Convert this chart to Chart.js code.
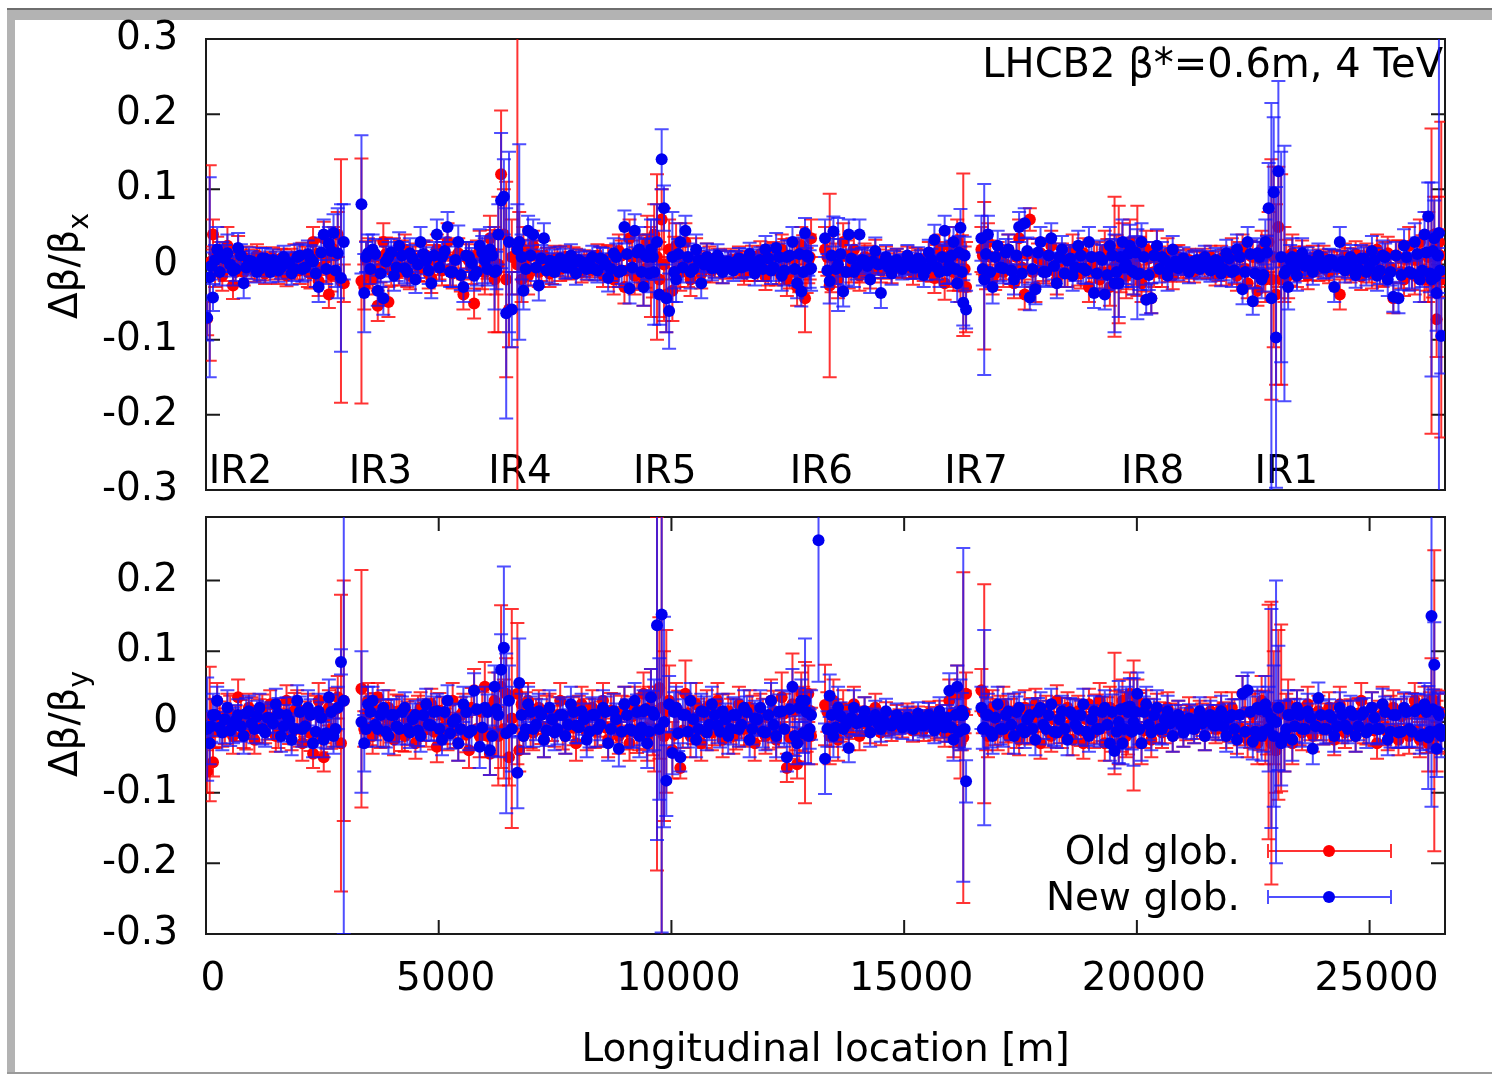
<!DOCTYPE html>
<html>
<head>
<meta charset="utf-8">
<script src="https://cdn.jsdelivr.net/npm/chart.js@4.4.1/dist/chart.umd.min.js"></script>
<style>
  html, body { margin: 0; padding: 0; background: #fff; }
  #page { position: relative; width: 1492px; height: 1075px; overflow: hidden; }
  canvas { position: absolute; left: 0; top: 0; }
  #topChart { top: -20px; }
  .frame { position: absolute; background: #b3b3b3; }
</style>
</head>
<body>
<div id="page">
  <div class="frame" style="left:7px;top:8px;width:1485px;height:2px;background:#6e6e6e"></div>
  <div class="frame" style="left:7px;top:10px;width:1485px;height:10px"></div>
  <div class="frame" style="left:7px;top:10px;width:8px;height:1064px"></div>
  <div class="frame" style="left:7px;top:1072px;width:1485px;height:2px;background:#9a9a9a"></div>
  <canvas id="topChart" width="1492" height="1075"></canvas>
  <canvas id="botChart" width="1492" height="1075"></canvas>
</div>
<script>
// ---- data ----
// BPM longitudinal positions [m], first set
const bpmS = [
  25, 80, 150, 240, 350, 460, 580, 690, 810, 920,
  1040, 1150, 1270, 1380, 1500, 1610, 1730, 1840, 1960, 2070,
  2190, 2300, 2420, 2530, 2640, 2740, 2830, 2900, 2960,
  3340, 3400, 3480, 3580, 3690, 3810, 3920, 4040, 4150, 4270,
  4380, 4500, 4610, 4730, 4840, 4960, 5070, 5190, 5300, 5420,
  5530, 5650, 5760, 5880, 5990, 6100, 6200, 6280, 6340, 6400,
  6450, 6510, 6570, 6690, 6730, 6780, 6820, 6920, 7030, 7150,
  7260, 7380, 7490, 7610, 7720, 7840, 7950, 8070, 8180, 8300,
  8410, 8530, 8640, 8760, 8870, 8990, 9100, 9210, 9310, 9400,
  9480, 9560, 9630, 9690, 9740, 9790, 9840, 9890, 9950, 10020,
  10100, 10190, 10300, 10410, 10530, 10640, 10760, 10870, 10990, 11100,
  11220, 11330, 11450, 11560, 11680, 11790, 11910, 12020, 12140, 12250,
  12370, 12480, 12600, 12700, 12790, 12870, 12940, 13000,
  13160, 13300, 13400, 13480, 13580, 13690, 13810, 13920, 14040, 14150,
  14270, 14380, 14500, 14610, 14730, 14840, 14960, 15070, 15190, 15300,
  15420, 15530, 15650, 15760, 15870, 15970, 16060, 16140, 16210, 16270,
  16330,
  16660, 16720, 16800, 16900, 17010, 17130, 17240, 17360, 17470, 17590,
  17700, 17820, 17930, 18050, 18160, 18280, 18390, 18510, 18620, 18740,
  18850, 18970, 19080, 19200, 19310, 19420, 19520, 19610, 19690, 19770,
  19850, 19930, 20010, 20100, 20200, 20310, 20430, 20540, 20660, 20770,
  20890, 21000, 21120, 21230, 21350, 21460, 21580, 21690, 21810, 21920,
  22040, 22150, 22270, 22380, 22490, 22590, 22680, 22760, 22830, 22890,
  22940, 22990, 23040, 23100, 23170, 23250, 23340, 23440, 23550, 23670,
  23780, 23900, 24010, 24130, 24240, 24360, 24470, 24590, 24700, 24820,
  24930, 25050, 25160, 25280, 25390, 25510, 25620, 25740, 25850, 25970,
  26080, 26180, 26260, 26330, 26390, 26440, 26490, 26540
];

const oldBx = [
  -.072, .002, .040, .012, -.015, .025, -.028, .018, -.010, .005,
  -.008, .010, -.012, .004, -.006, .008, -.015, .006, -.004, .012,
  -.010, .030, -.022, .035, -.040, .020, .040, -.022, -.025,
  -.022, -.030, .010, -.020, -.055, .030, -.050, .015, -.010, .020,
  -.015, .008, -.005, .012, -.018, .020, -.008, .030, -.012, .015,
  -.040, .005, -.052, .020, -.010, .035, -.020, .000, .120, .040,
  -.020, -.060, .010, .000, .030, -.020, .020, -.015, .025, -.010,
  .012, -.012, .008, -.006, .010, -.004, .006, -.010, .004, -.002,
  .012, -.014, .008, -.020, .018, -.030, .035, -.015, .010, -.025,
  .030, -.010, .040, .010, -.020, .060, .000, -.040, .020, -.035,
  .025, -.010, .030, -.020, .015, -.012, .010, -.008, .006, -.010,
  .004, -.004, .010, -.012, .002, -.006, .014, -.016, .010, -.008,
  .020, -.020, .010, -.030, .025, -.045, .005, .035,
  null, .020, -.028, .010, -.020, .030, -.010, .020, -.015, .010,
  -.012, .015, -.008, .008, -.010, .006, -.004, .010, -.012, .004,
  -.006, .012, -.018, .020, -.025, .025, -.010, .030, -.020, .013,
  -.030,
  .020, -.015, .030, -.020, .010, -.010, .020, -.025, .035, -.040,
  .060, -.030, .015, -.005, .025, -.020, .010, -.012, .020, -.008,
  .015, -.030, .005, -.020, .020, -.030, -.003, .000, .025, -.015,
  .030, -.010, .018, -.025, .020, -.045, .020, -.010, .015, -.015,
  .010, -.008, .006, -.010, .004, -.004, .010, -.012, .008, -.010,
  .015, -.015, .020, -.025, .010, -.035, .020, -.020, .030, -.020,
  .010, -.040, .050, -.020, .000, -.015, .015, -.010, .012, -.015,
  .008, -.006, .010, -.010, .004, -.040, .012, -.008, .014, -.016,
  .010, -.012, .020, -.010, .015, -.045, .010, -.020, .025, -.015,
  .030, -.020, .010, -.022, .040, -.073, .030, -.020
];
const oldBxErr = [
  .022, .13, .02, .025, .02, .025, .018, .02, .018, .015,
  .015, .013, .014, .013, .014, .013, .014, .015, .016, .017,
  .02, .02, .02, .022, .018, .03, .03, .162, .025,
  .163, .03, .025, .02, .02, .025, .02, .02, .018, .02,
  .018, .02, .018, .02, .02, .02, .02, .025, .02, .02,
  .02, .022, .02, .025, .03, .03, .07, .09, .085, .06,
  .13, .05, .05, .40, .04, .03, .03, .025, .02, .02,
  .02, .018, .017, .016, .015, .015, .015, .014, .014, .015,
  .015, .016, .018, .02, .022, .022, .025, .025, .03, .03,
  .035, .06, .04, .11, .05, .04, .075, .05, .04, .04,
  .03, .025, .025, .022, .02, .02, .018, .016, .015, .015,
  .014, .014, .014, .015, .015, .016, .017, .018, .018, .02,
  .02, .022, .025, .025, .025, .045, .03, .025,
  null, .03, .122, .03, .025, .025, .022, .02, .02, .018,
  .02, .018, .016, .016, .015, .015, .014, .014, .015, .015,
  .016, .018, .02, .02, .022, .025, .025, .03, .03, .108,
  .06,
  .03, .098, .025, .02, .02, .02, .02, .02, .025, .02,
  .015, .02, .02, .02, .02, .02, .018, .018, .02, .02,
  .02, .02, .022, .022, .025, .025, .093, .078, .03, .03,
  .03, .03, .06, .025, .025, .02, .025, .02, .02, .018,
  .016, .015, .015, .014, .014, .014, .015, .016, .017, .018,
  .02, .02, .02, .02, .02, .02, .025, .03, .04, .16,
  .12, .12, .08, .14, .05, .03, .025, .02, .02, .018,
  .017, .016, .015, .015, .015, .02, .016, .016, .017, .018,
  .018, .02, .02, .02, .022, .02, .022, .022, .025, .025,
  .03, .03, .06, .203, .05, .05, .06, .21
];
const newBx = [
  -.071, -.017, -.044, .020, .010, .015, -.008, .022, -.025, .005,
  .000, -.006, .008, -.010, .004, -.004, .002, -.012, .010, -.006,
  .014, .004, -.030, .040, .028, .042, .015, -.018, .030,
  .080, -.038, .015, .020, -.035, -.045, .010, -.015, .025, -.005,
  .015, -.020, .030, .005, -.025, .040, .010, .050, -.010, .030,
  -.030, .010, -.015, .025, .005, .020, -.010, .040, .085, .090,
  -.065, .030, -.060, .020, .030, .010, -.035, .045, .040, -.028,
  .035, .005, -.010, .008, -.004, .012, -.012, .003, -.006, .010,
  -.008, .006, -.018, .015, -.010, .050, -.032, .045, .020, -.030,
  .010, .020, -.010, .030, -.040, .140, .075, -.045, -.062, .010,
  -.020, .030, .045, -.010, .020, -.025, .010, -.005, .012, -.010,
  .004, -.008, .008, -.002, .014, -.012, .006, .020, -.008, .022,
  -.015, .010, .030, -.025, -.036, .042, .010, -.005,
  null, .035, -.022, .044, .000, -.036, .040, -.010, .040, .005,
  -.020, .018, -.038, .010, -.012, .006, -.006, .012, -.004, .008,
  -.014, .016, .033, -.010, .045, .000, .030, -.025, .049, -.051,
  -.060,
  .035, -.020, .040, -.030, .025, -.005, .020, -.020, .050, .055,
  -.044, -.033, .030, -.010, .035, -.025, .020, .005, -.015, .025,
  -.005, .030, -.038, .010, -.040, .025, -.025, -.025, .030, .000,
  .025, -.010, -.013, .030, -.047, -.045, .025, .010, -.015, .020,
  -.005, .008, -.010, .004, -.006, .010, -.008, .006, -.012, .015,
  -.010, .020, -.033, .030, -.049, .015, -.020, .030, .075, -.045,
  .096, -.097, .124, .010, -.012, -.030, .010, -.015, .015, .005,
  -.010, .012, -.004, .006, -.030, .030, -.008, .010, -.014, .008,
  -.010, .018, -.015, .012, -.020, -.043, -.045, .025, -.010, .030,
  -.020, .040, .064, -.020, .035, -.038, .042, -.095
];
const newBxErr = [
  .03, .133, .018, .03, .02, .025, .02, .02, .02, .018,
  .015, .015, .014, .014, .013, .015, .014, .015, .016, .017,
  .018, .02, .02, .02, .022, .025, .06, .098, .05,
  .092, .052, .025, .02, .02, .022, .02, .02, .018, .02,
  .02, .018, .02, .018, .02, .02, .02, .02, .02, .022,
  .02, .02, .02, .022, .03, .03, .05, .04, .09, .05,
  .14, .12, .05, .06, .13, .03, .025, .02, .02, .02,
  .02, .018, .017, .016, .015, .015, .015, .014, .014, .015,
  .016, .016, .018, .02, .02, .022, .02, .022, .03, .025,
  .03, .04, .07, .05, .04, .04, .03, .045, .05, .06,
  .03, .025, .02, .022, .02, .02, .018, .016, .015, .015,
  .014, .014, .014, .015, .015, .016, .017, .018, .018, .02,
  .02, .022, .02, .02, .02, .02, .025, .03,
  null, .025, .03, .02, .062, .02, .02, .02, .02, .018,
  .018, .018, .02, .016, .015, .015, .014, .014, .015, .015,
  .016, .017, .02, .02, .02, .025, .02, .025, .025, .03,
  .025,
  .03, .127, .025, .022, .02, .02, .02, .02, .02, .02,
  .017, .02, .02, .02, .02, .02, .018, .018, .02, .02,
  .02, .02, .02, .022, .02, .025, .065, .045, .03, .03,
  .028, .03, .06, .025, .02, .02, .022, .02, .02, .018,
  .016, .015, .015, .014, .014, .015, .015, .016, .017, .018,
  .02, .02, .02, .02, .018, .02, .025, .03, .06, .26,
  .1, .2, .12, .14, .17, .03, .025, .02, .02, .018,
  .017, .016, .015, .015, .02, .02, .016, .016, .017, .018,
  .018, .02, .02, .02, .022, .02, .02, .022, .025, .025,
  .03, .03, .045, .129, .05, .05, .4, .05
];
const oldBy = [
  -.070, -.017, -.057, .030, -.010, .010, -.020, .035, -.015, .020,
  -.025, .010, -.010, .025, -.020, .005, .030, -.015, .020, -.030,
  .015, -.045, .030, -.050, .020, -.010, .035, -.030, .030,
  .047, -.010, .030, -.020, .035, -.010, .020, -.025, .015, -.020,
  .010, -.030, .020, -.010, .025, -.035, .010, -.015, .030, -.030,
  .015, -.040, .045, -.020, .050, -.045, .030, -.020, .050, -.010,
  .040, -.050, .005, .040, -.040, .025, -.020, .030, -.015, .020,
  -.025, .015, -.010, .030, -.020, .010, -.030, .025, -.015, .020,
  -.010, .030, -.025, .015, -.020, .025, -.030, .020, -.010, .040,
  -.020, .035, -.010, .040, .048, .020, -.020, .015, .030, -.040,
  .020, -.065, .040, -.020, .025, -.030, .020, -.015, .030, -.025,
  .015, -.020, .025, -.010, .020, -.030, .015, -.020, .030, -.025,
  .035, -.065, .025, -.060, .040, -.015, .040, -.020,
  null, .024, -.020, .030, -.025, .020, -.015, .025, -.020, .015,
  -.010, .020, -.015, .010, -.010, .008, -.006, .010, -.012, .006,
  -.010, .012, -.008, .010, -.015, .030, -.020, .040, -.030, -.022,
  .040,
  .045, .040, -.020, .020, -.015, .025, -.020, .015, -.025, .020,
  -.010, .025, -.030, .015, -.020, .030, -.015, .020, -.025, .015,
  -.030, .025, -.015, .030, -.030, .020, .012, -.030, .030, -.020,
  .040, -.005, .030, -.030, .020, -.025, .015, -.015, .020, -.020,
  .010, -.015, .015, -.010, .010, -.020, .015, -.010, .020, -.015,
  .020, -.020, .040, -.025, .010, -.030, .030, -.020, .000, -.030,
  .020, -.040, .010, .020, -.020, .025, -.030, .020, -.015, .025,
  -.020, .015, -.010, .020, -.025, .025, -.015, .010, -.020, .030,
  -.010, .020, -.030, .025, -.015, .020, -.025, .015, -.020, .030,
  -.025, .020, -.030, .030, .030, -.020, .010, -.015
];
const oldByErr = [
  .03, .095, .02, .025, .025, .03, .025, .025, .022, .02,
  .02, .022, .02, .02, .022, .025, .022, .025, .025, .025,
  .025, .02, .025, .02, .025, .025, .03, .21, .17,
  .168, .025, .025, .025, .02, .025, .025, .022, .022, .022,
  .022, .022, .022, .025, .022, .022, .025, .025, .025, .025,
  .025, .025, .03, .03, .035, .03, .04, .07, .115, .07,
  .05, .04, .155, .1, .03, .03, .025, .025, .025, .025,
  .025, .025, .025, .025, .025, .025, .025, .025, .025, .025,
  .025, .025, .025, .025, .025, .025, .025, .03, .03, .03,
  .035, .04, .06, .25, .1, .4, .12, .115, .05, .04,
  .035, .015, .047, .03, .03, .025, .025, .025, .025, .025,
  .025, .025, .025, .025, .025, .025, .025, .025, .03, .03,
  .035, .02, .072, .02, .03, .1, .04, .04,
  null, .057, .04, .03, .03, .025, .025, .025, .02, .02,
  .02, .02, .018, .018, .017, .016, .016, .016, .016, .016,
  .017, .017, .018, .02, .02, .03, .03, .04, .05, .234,
  .03,
  .03, .155, .03, .025, .025, .025, .025, .025, .022, .025,
  .022, .022, .022, .022, .022, .022, .022, .022, .022, .022,
  .022, .022, .022, .025, .025, .03, .086, .03, .03, .03,
  .03, .092, .03, .03, .025, .025, .025, .022, .022, .022,
  .02, .02, .02, .02, .02, .02, .02, .02, .022, .022,
  .022, .025, .025, .025, .03, .03, .035, .04, .166, .2,
  .08, .06, .12, .118, .05, .035, .03, .025, .025, .025,
  .022, .022, .022, .022, .022, .025, .022, .022, .022, .025,
  .022, .022, .022, .025, .025, .025, .022, .025, .025, .025,
  .025, .03, .04, .06, .213, .05, .03, .03
];
const newBy = [
  -.010, -.030, .010, .030, -.015, .020, -.005, .010, -.020, .015,
  -.010, .020, -.015, .005, .025, -.020, .010, -.025, .030, -.010,
  .020, -.030, .015, -.025, .035, -.020, .020, .085, .030,
  .000, -.030, .025, .030, -.010, .020, -.020, .010, -.010, .020,
  -.015, .010, -.020, .025, -.005, .015, -.025, .030, .000, -.030,
  .025, -.015, .044, -.035, .020, -.040, .050, .010, .074, .105,
  -.016, .030, -.010, -.072, .055, .010, -.020, .025, -.010, .015,
  -.025, .020, -.015, .010, -.020, .025, -.005, .015, -.025, .010,
  -.010, .020, -.030, .015, -.038, .025, -.010, .030, -.020, .015,
  -.030, .035, .010, .137, -.010, .152, .000, -.083, .025, -.044,
  .020, -.050, .010, .030, -.025, .015, -.015, .025, -.005, .015,
  -.020, .010, -.010, .020, -.025, .005, .020, -.015, .030, -.020,
  .015, -.050, .050, -.030, .030, .030, -.020, .010,
  .257, -.052, .037, -.020, .020, -.010, -.037, .020, .000, .015,
  -.015, .010, -.010, .015, -.005, .010, -.008, .006, -.010, .012,
  -.005, .010, -.012, .015, -.008, .044, -.025, .050, .010, .010,
  -.084,
  .020, -.008, .010, -.020, .025, -.010, .015, -.020, .020, -.015,
  .010, -.025, .020, -.010, .025, -.015, .015, -.025, .010, -.010,
  .025, -.020, .015, -.010, .020, -.030, -.041, .000, -.030, .020,
  .022, .000, .040, -.030, .025, -.015, .020, -.010, .015, -.020,
  .010, -.015, .005, -.010, .015, -.020, .010, -.005, .015, -.020,
  .010, -.025, .040, .045, -.028, .020, -.020, .025, -.010, .005,
  -.020, .000, .020, -.030, -.020, .010, -.025, .020, -.010, .015,
  -.038, .034, -.010, .010, -.020, .020, -.005, .015, -.020, .010,
  -.015, .020, -.010, .025, -.025, .010, -.015, .020, -.010, .015,
  -.020, .025, -.022, .150, .081, -.038, .010, -.020
];
const newByErr = [
  .073, .03, .03, .02, .025, .025, .025, .022, .025, .022,
  .02, .02, .02, .02, .022, .022, .025, .022, .022, .025,
  .025, .02, .025, .025, .025, .025, .03, .018, .33,
  .1, .04, .025, .02, .025, .025, .025, .022, .022, .022,
  .022, .02, .022, .022, .022, .025, .022, .022, .025, .025,
  .025, .025, .025, .03, .03, .035, .03, .06, .05, .115,
  .113, .05, .06, .05, .063, .03, .025, .025, .025, .025,
  .025, .025, .025, .025, .025, .025, .025, .025, .025, .025,
  .025, .025, .025, .025, .025, .025, .025, .025, .03, .03,
  .035, .04, .05, .304, .1, .45, .149, .05, .04, .03,
  .03, .02, .03, .025, .025, .025, .025, .025, .025, .025,
  .025, .025, .025, .025, .025, .025, .025, .025, .025, .03,
  .03, .02, .025, .03, .03, .088, .04, .035,
  .2, .05, .03, .03, .03, .025, .02, .025, .02, .02,
  .02, .02, .018, .018, .017, .016, .016, .016, .016, .016,
  .017, .017, .018, .02, .02, .025, .03, .03, .05, .236,
  .03,
  .03, .138, .03, .025, .025, .025, .025, .025, .022, .022,
  .022, .022, .022, .022, .022, .022, .022, .022, .022, .022,
  .022, .022, .022, .025, .025, .025, .025, .058, .03, .03,
  .04, .062, .03, .025, .025, .025, .025, .022, .022, .022,
  .02, .02, .02, .02, .02, .02, .02, .02, .022, .022,
  .022, .025, .025, .025, .025, .03, .035, .04, .06, .155,
  .1, .2, .088, .06, .05, .035, .03, .025, .025, .025,
  .022, .022, .022, .022, .022, .022, .022, .022, .022, .022,
  .022, .022, .022, .022, .022, .022, .022, .022, .025, .025,
  .025, .03, .073, .27, .06, .04, .03, .03
];

// second set of BPMs, interleaved with the first (arcs)
const bpmS2 = [
  110, 195, 295, 405, 520, 635, 750, 865, 980, 1095,
  1210, 1325, 1440, 1555, 1670, 1785, 1900, 2015, 2130, 2245,
  2360, 2475, 2585, 2690, 2785,
  3440, 3530, 3635, 3750, 3865, 3980, 4095, 4210, 4325, 4440,
  4555, 4670, 4785, 4900, 5015, 5130, 5245, 5360, 5475, 5590,
  5705, 5820, 5935, 6050, 6150, 6240,
  6870, 6975, 7090, 7205, 7320, 7435, 7550, 7665, 7780, 7895,
  8010, 8125, 8240, 8355, 8470, 8585, 8700, 8815, 8930, 9045,
  9155, 9260, 9355, 9440, 9520, 9600,
  10060, 10145, 10245, 10355, 10470, 10585, 10700, 10815, 10930, 11045,
  11160, 11275, 11390, 11505, 11620, 11735, 11850, 11965, 12080, 12195,
  12310, 12425, 12540, 12650, 12745, 12830, 12905, 12970,
  13350, 13440, 13530, 13635, 13750, 13865, 13980, 14095, 14210, 14325,
  14440, 14555, 14670, 14785, 14900, 15015, 15130, 15245, 15360, 15475,
  15590, 15705, 15815, 15920, 16015, 16100, 16175, 16240, 16300,
  16690, 16760, 16850, 16955, 17070, 17185, 17300, 17415, 17530, 17645,
  17760, 17875, 17990, 18105, 18220, 18335, 18450, 18565, 18680, 18795,
  18910, 19025, 19140, 19255, 19365, 19470, 19565, 19650, 19730, 19810,
  19890, 19970, 20055, 20150, 20255, 20370, 20485, 20600, 20715, 20830,
  20945, 21060, 21175, 21290, 21405, 21520, 21635, 21750, 21865, 21980,
  22095, 22210, 22325, 22435, 22540, 22635, 22720, 22795,
  23210, 23295, 23390, 23495, 23610, 23725, 23840, 23955, 24070, 24185,
  24300, 24415, 24530, 24645, 24760, 24875, 24990, 25105, 25220, 25335,
  25450, 25565, 25680, 25795, 25910, 26025, 26130, 26220, 26295, 26360,
  26415, 26465, 26515
];
const oldBx2 = [
  .004, -.008, .010, -.002, .006, -.010, .002, .008, -.004, .012,
  -.006, .000, .008, -.010, .004, -.002, .010, -.008, .006, -.012,
  .014, -.004, .008, -.014, .012,
  .006, -.012, .010, -.004, .014, -.008, .002, .012, -.010, .004,
  -.002, .010, -.012, .006, .000, .014, -.006, .008, -.014, .010,
  -.004, .012, -.008, .006, .016, -.010,
  .008, -.006, .012, -.002, .004, -.008, .006, .000, -.004, .008,
  -.002, .004, -.006, .002, .008, -.004, .006, -.010, .012, -.008,
  .010, -.012, .014, -.006, .010, -.014,
  .012, -.008, .006, -.010, .004, .000, -.006, .008, -.002, .004,
  -.004, .006, -.002, .002, -.006, .008, -.004, .006, -.008, .010,
  -.006, .012, -.010, .008, -.012, .014, -.008, .010,
  .010, -.012, .006, -.008, .012, -.004, .002, -.006, .008, -.002,
  .004, -.004, .000, .004, -.002, .002, -.004, .006, -.002, .004,
  -.006, .008, -.004, .010, -.008, .012, -.010, .014, -.006,
  .012, -.008, .010, -.012, .006, .000, -.006, .010, -.004, .014,
  -.010, .008, -.002, .012, -.008, .004, -.010, .006, .002, -.012,
  .010, -.004, .008, -.010, .012, -.006, .014, -.012, .004, -.008,
  .010, -.002, .012, -.014, .008, -.010, .004, .000, -.006, .008,
  -.002, .004, -.004, .002, .006, -.004, .002, -.006, .004, .000,
  -.008, .010, -.006, .012, -.010, .008, -.012, .014,
  .008, -.006, .004, -.002, .006, -.004, .000, .004, -.006, .002,
  .004, -.002, .006, -.004, .002, .008, -.006, .004, -.008, .010,
  -.004, .012, -.010, .008, -.012, .006, .014, -.010, .012, -.014,
  .010, -.008, .012
];
const oldBx2Err = [
  .02, .022, .02, .02, .018, .018, .016, .016, .015, .015,
  .015, .015, .015, .016, .016, .016, .017, .018, .018, .02,
  .02, .02, .022, .022, .025,
  .025, .02, .022, .02, .022, .02, .02, .02, .02, .02,
  .02, .02, .02, .02, .02, .02, .022, .02, .022, .02,
  .022, .02, .025, .025, .03, .03,
  .025, .022, .02, .02, .018, .018, .017, .016, .016, .015,
  .015, .015, .015, .016, .016, .017, .018, .02, .02, .022,
  .022, .022, .025, .025, .03, .03,
  .025, .022, .022, .02, .02, .018, .017, .016, .015, .015,
  .015, .015, .015, .016, .016, .017, .018, .018, .02, .02,
  .02, .022, .022, .025, .025, .025, .03, .03,
  .025, .025, .022, .022, .02, .02, .018, .018, .017, .016,
  .016, .015, .015, .015, .015, .015, .015, .016, .016, .016,
  .017, .018, .02, .02, .022, .022, .025, .025, .03,
  .025, .025, .022, .022, .02, .02, .02, .02, .02, .02,
  .02, .02, .02, .02, .02, .02, .02, .02, .02, .02,
  .02, .02, .022, .022, .022, .025, .025, .025, .025, .025,
  .025, .025, .025, .022, .022, .02, .02, .018, .017, .016,
  .016, .015, .015, .015, .015, .015, .015, .016, .016, .017,
  .018, .02, .02, .02, .022, .022, .025, .025,
  .025, .022, .02, .02, .018, .017, .016, .016, .015, .015,
  .015, .015, .016, .016, .016, .017, .018, .018, .02, .02,
  .02, .02, .022, .022, .022, .025, .025, .025, .03, .03,
  .03, .035, .035
];
const newBx2 = [
  -.002, .006, -.010, .008, .000, -.006, .012, -.004, .004, -.010,
  .008, -.002, .006, -.008, .010, .002, -.006, .012, -.004, .008,
  -.012, .016, -.006, .018, -.008,
  .010, -.006, .014, -.012, .004, .016, -.004, .012, -.010, .008,
  .000, .014, -.008, .012, -.004, .018, -.010, .006, -.014, .012,
  .002, -.010, .016, -.006, .012, -.008,
  -.006, .012, -.004, .008, -.008, .004, .000, .006, -.004, .002,
  .006, -.002, .004, -.006, .008, .000, -.006, .010, -.008, .014,
  -.004, .016, -.010, .012, -.012, .010,
  -.010, .014, -.004, .010, -.006, .006, .000, .004, -.004, .006,
  -.002, .002, .004, -.004, .006, -.002, .004, -.006, .008, -.004,
  .010, -.008, .012, -.006, .014, -.010, .012, -.006,
  -.008, .012, -.006, .014, -.010, .008, -.004, .006, -.002, .004,
  .000, .002, -.004, .004, -.002, .000, .002, -.004, .004, -.006,
  .006, -.004, .010, -.008, .012, -.006, .016, -.010, .012,
  -.006, .014, -.010, .010, -.004, .016, -.008, .012, -.012, .018,
  -.006, .016, -.010, .012, -.002, .010, -.012, .008, -.004, .012,
  -.008, .010, -.012, .006, -.014, .012, -.010, .010, -.004, .014,
  -.008, .016, -.012, .010, -.014, .012, -.006, .006, -.004, .004,
  .000, .002, -.004, .006, -.002, .004, -.006, .004, -.006, .008,
  -.008, .010, -.010, .014, -.012, .010, -.014, .016,
  -.008, .006, -.006, .004, -.002, .004, .000, .002, -.004, .006,
  -.002, .004, -.004, .006, -.006, .008, -.004, .006, -.008, .010,
  -.010, .012, -.014, .010, -.012, .014, -.008, .016, -.012, .018,
  -.016, .012, -.008
];
const newBx2Err = [
  .018, .02, .018, .018, .016, .016, .015, .015, .014, .014,
  .014, .014, .014, .015, .015, .015, .016, .016, .017, .018,
  .018, .02, .02, .02, .022,
  .02, .02, .02, .018, .02, .018, .018, .018, .018, .018,
  .018, .018, .018, .018, .018, .018, .02, .018, .02, .018,
  .02, .018, .022, .022, .025, .025,
  .022, .02, .018, .018, .016, .016, .015, .015, .014, .014,
  .014, .014, .014, .015, .015, .015, .016, .018, .018, .02,
  .02, .02, .022, .022, .025, .025,
  .022, .02, .02, .018, .018, .016, .015, .015, .014, .014,
  .014, .014, .014, .015, .015, .015, .016, .016, .018, .018,
  .018, .02, .02, .022, .022, .022, .025, .025,
  .022, .022, .02, .02, .018, .018, .016, .016, .015, .015,
  .014, .014, .014, .014, .014, .014, .014, .015, .015, .015,
  .015, .016, .018, .018, .02, .02, .022, .022, .025,
  .022, .022, .02, .02, .018, .018, .018, .018, .018, .018,
  .018, .018, .018, .018, .018, .018, .018, .018, .018, .018,
  .018, .018, .02, .02, .02, .022, .022, .022, .022, .022,
  .022, .022, .022, .02, .02, .018, .018, .016, .015, .015,
  .014, .014, .014, .014, .014, .014, .014, .015, .015, .015,
  .016, .018, .018, .018, .02, .02, .022, .022,
  .022, .02, .018, .018, .016, .015, .015, .014, .014, .014,
  .014, .014, .014, .015, .015, .015, .016, .016, .018, .018,
  .018, .018, .02, .02, .02, .022, .022, .022, .025, .025,
  .025, .03, .03
];
const oldBy2 = [
  .008, -.012, .004, -.006, .012, -.002, .006, -.014, .010, -.004,
  .014, .000, .006, -.012, .008, -.006, .016, -.010, .004, -.016,
  .012, -.018, .008, -.010, .018,
  .012, -.008, .016, -.012, .006, -.004, .014, -.016, .004, -.008,
  .012, -.002, .008, -.014, .016, -.006, .002, -.012, .010, -.018,
  .020, -.010, .014, -.020, .022, -.014,
  .014, -.012, .008, -.006, .012, -.002, .010, -.014, .004, -.008,
  .012, .000, .008, -.012, .004, -.008, .016, -.004, .012, -.014,
  .008, -.016, .012, -.008, .020, -.012,
  -.018, .016, -.012, .012, -.006, .008, -.012, .004, -.008, .014,
  -.004, .008, -.014, .002, -.008, .012, -.002, .008, -.014, .016,
  -.008, .012, -.022, .016, -.026, .020, -.012, .016,
  .014, -.010, .010, -.006, .006, -.004, .004, -.002, .004, .000,
  .002, -.004, .000, -.002, .002, .000, .004, -.002, .000, -.004,
  .004, -.006, .006, -.008, .012, -.010, .016, -.012, .014,
  .014, -.012, .008, -.008, .012, -.004, .008, -.012, .004, -.008,
  .012, -.002, .008, -.014, .004, -.008, .012, -.004, .010, -.012,
  .004, -.008, .014, -.002, .010, -.014, .016, -.012, .012, -.016,
  .014, -.008, .016, -.012, .008, -.004, .006, -.008, .006, -.002,
  .004, -.006, .004, -.004, .006, -.002, .004, -.006, .006, -.006,
  .010, -.008, .014, -.012, .016, -.012, .014, -.016,
  .012, -.008, .008, -.008, .004, -.004, .008, -.004, .004, -.008,
  .004, -.008, .008, -.004, .012, -.008, .004, -.012, .008, -.008,
  .012, -.012, .008, -.012, .016, -.012, .012, -.016, .014, -.012,
  .016, -.012, .014
];
const oldBy2Err = [
  .025, .025, .025, .025, .025, .025, .025, .025, .025, .025,
  .025, .025, .025, .025, .025, .025, .025, .025, .025, .025,
  .025, .025, .025, .028, .03,
  .028, .025, .025, .025, .025, .025, .025, .025, .025, .025,
  .025, .025, .025, .025, .025, .025, .025, .025, .025, .025,
  .028, .028, .028, .03, .03, .035,
  .028, .025, .025, .025, .025, .025, .025, .025, .025, .025,
  .025, .025, .025, .025, .025, .025, .025, .025, .025, .025,
  .028, .028, .028, .03, .03, .035,
  .03, .028, .025, .025, .025, .025, .025, .025, .025, .025,
  .025, .025, .025, .025, .025, .025, .025, .025, .025, .028,
  .028, .028, .03, .03, .03, .03, .03, .03,
  .028, .025, .022, .022, .02, .02, .018, .018, .017, .017,
  .016, .016, .016, .016, .016, .016, .016, .016, .016, .016,
  .017, .017, .018, .02, .022, .025, .025, .028, .03,
  .03, .028, .025, .025, .025, .025, .025, .025, .022, .022,
  .022, .022, .022, .022, .022, .022, .022, .022, .022, .022,
  .022, .022, .025, .025, .025, .028, .028, .03, .03, .03,
  .028, .028, .025, .025, .025, .025, .022, .022, .02, .02,
  .02, .02, .02, .02, .02, .02, .02, .02, .022, .022,
  .022, .025, .025, .025, .028, .028, .03, .03,
  .028, .025, .025, .025, .022, .022, .022, .022, .022, .022,
  .022, .022, .022, .022, .022, .022, .022, .022, .022, .025,
  .025, .025, .025, .025, .025, .025, .025, .028, .028, .03,
  .03, .03, .03
];
const newBy2 = [
  -.006, .010, -.008, .004, -.012, .002, -.006, .012, -.002, .008,
  -.010, .006, -.002, .012, -.006, .002, -.010, .014, -.006, .010,
  -.014, .006, -.016, .014, -.010,
  -.010, .014, -.004, .010, -.014, .010, -.006, .014, -.010, .004,
  -.012, .010, -.004, .014, -.010, .014, -.016, .004, -.010, .014,
  -.012, .018, -.008, .014, -.020, .018,
  -.010, .014, -.004, .010, -.012, .004, -.010, .010, -.004, .014,
  -.008, .004, -.014, .010, -.004, .014, -.010, .004, -.014, .010,
  -.012, .014, -.008, .018, -.014, .014,
  .014, -.016, .010, -.014, .004, -.010, .014, -.004, .010, -.014,
  .004, -.010, .010, -.004, .014, -.010, .004, -.014, .010, -.004,
  .014, -.010, .018, -.020, .020, -.016, .014, -.010,
  -.010, .010, -.008, .008, -.004, .006, -.002, .004, .000, .004,
  -.002, .002, -.004, .000, -.002, .002, .000, .002, -.004, .002,
  -.004, .004, -.006, .006, -.008, .010, -.014, .016, -.010,
  -.010, .010, -.014, .006, -.010, .010, -.004, .014, -.010, .004,
  -.010, .014, -.004, .010, -.014, .004, -.010, .014, -.004, .010,
  -.014, .004, -.010, .014, -.004, .014, -.014, .018, -.010, .014,
  -.014, .014, -.010, .014, -.004, .010, -.010, .004, -.002, .006,
  -.004, .002, -.006, .004, -.002, .006, -.004, .006, -.006, .006,
  -.010, .010, -.014, .014, -.014, .018, -.014, .014,
  -.010, .010, -.006, .010, -.010, .006, -.006, .010, -.010, .006,
  -.006, .010, -.010, .010, -.006, .014, -.010, .006, -.010, .014,
  -.014, .010, -.014, .014, -.014, .018, -.018, .014, -.014, .018,
  -.014, .014, -.010
];
const newBy2Err = [
  .022, .022, .022, .022, .022, .022, .022, .022, .022, .022,
  .022, .022, .022, .022, .022, .022, .022, .022, .022, .022,
  .022, .022, .022, .025, .025,
  .025, .022, .022, .022, .022, .022, .022, .022, .022, .022,
  .022, .022, .022, .022, .022, .022, .022, .022, .022, .022,
  .025, .025, .025, .025, .028, .03,
  .025, .022, .022, .022, .022, .022, .022, .022, .022, .022,
  .022, .022, .022, .022, .022, .022, .022, .022, .022, .022,
  .025, .025, .025, .025, .028, .03,
  .028, .025, .022, .022, .022, .022, .022, .022, .022, .022,
  .022, .022, .022, .022, .022, .022, .022, .022, .022, .025,
  .025, .025, .025, .028, .028, .028, .028, .028,
  .025, .022, .02, .02, .018, .018, .016, .016, .015, .015,
  .015, .015, .015, .015, .015, .015, .015, .015, .015, .015,
  .015, .015, .016, .018, .02, .022, .022, .025, .028,
  .028, .025, .022, .022, .022, .022, .022, .022, .02, .02,
  .02, .02, .02, .02, .02, .02, .02, .02, .02, .02,
  .02, .02, .022, .022, .022, .025, .025, .028, .028, .028,
  .025, .025, .022, .022, .022, .022, .02, .02, .018, .018,
  .018, .018, .018, .018, .018, .018, .018, .018, .02, .02,
  .02, .022, .022, .022, .025, .025, .028, .028,
  .025, .022, .022, .022, .02, .02, .02, .02, .02, .02,
  .02, .02, .02, .02, .02, .02, .02, .02, .02, .022,
  .022, .022, .022, .022, .022, .022, .022, .025, .025, .028,
  .028, .028, .028
];

const seriesNames = ['Old glob.', 'New glob.'];
const xTicks = [0, 5000, 10000, 15000, 20000, 25000];
const yTicks = [-0.3, -0.2, -0.1, 0, 0.1, 0.2, 0.3];
const irNames = ['IR2', 'IR3', 'IR4', 'IR5', 'IR6', 'IR7', 'IR8', 'IR1'];
const irS = [60, 3065, 6066, 9175, 12540, 15863, 19657, 22529];

// ---- styling ----
const FONT = 'DejaVu Sans';
const RED_BAR = 'rgba(255,0,0,0.8)', RED_PT = '#ff0000';
const BLUE_BAR = 'rgba(20,20,255,0.75)', BLUE_PT = '#0000f0';
const X_MAX = 26620;
const font = { family: FONT, size: 39 };

function points(pos, vals, errs) {
  return pos.map((s, i) => ({ x: s, y: vals[i], e: errs[i] })).filter(p => p.y !== null);
}

function dataset(label, data, pt, bar, order) {
  return {
    label, data: data.sort((a, b) => a.x - b.x), order,
    backgroundColor: pt, borderWidth: 0,
    pointRadius: 6, pointHoverRadius: 6,
    barColor: bar
  };
}

// error bars drawn just before each dataset's points
const errorBars = {
  id: 'errorBars',
  beforeDatasetDraw(chart, args) {
    const ds = chart.data.datasets[args.index];
    const ys = chart.scales.y, a = chart.chartArea, ctx = chart.ctx;
    ctx.save();
    ctx.beginPath();
    ctx.rect(a.left, a.top, a.right - a.left, a.bottom - a.top);
    ctx.clip();
    ctx.strokeStyle = ds.barColor;
    ctx.lineWidth = 2;
    args.meta.data.forEach((el, i) => {
      const p = ds.data[i];
      const y1 = ys.getPixelForValue(p.y + p.e), y2 = ys.getPixelForValue(p.y - p.e);
      ctx.beginPath();
      ctx.moveTo(el.x, y1); ctx.lineTo(el.x, y2);
      ctx.moveTo(el.x - 7, y1); ctx.lineTo(el.x + 7, y1);
      ctx.moveTo(el.x - 7, y2); ctx.lineTo(el.x + 7, y2);
      ctx.stroke();
    });
    ctx.restore();
  }
};

function drawYTitle(ctx, cx, cy, main, sub) {
  ctx.save();
  ctx.translate(cx, cy);
  ctx.rotate(-Math.PI / 2);
  ctx.fillStyle = '#000';
  ctx.textAlign = 'left';
  ctx.textBaseline = 'alphabetic';
  ctx.font = `39px "${FONT}"`;
  const w1 = ctx.measureText(main).width;
  ctx.font = `28px "${FONT}"`;
  const w2 = ctx.measureText(sub).width;
  const x0 = -(w1 + w2) / 2;
  ctx.font = `39px "${FONT}"`;
  ctx.fillText(main, x0, 0);
  ctx.font = `28px "${FONT}"`;
  ctx.fillText(sub, x0 + w1, 11);
  ctx.restore();
}

// border, inward ticks and texts, drawn under the data
function framePlugin(withXTicks, drawTexts) {
  return {
    id: 'frame',
    beforeDatasetsDraw(chart) {
      const { ctx, chartArea: a, scales } = chart;
      ctx.save();
      ctx.strokeStyle = '#1a1a1a';
      ctx.lineWidth = 2;
      ctx.strokeRect(a.left, a.top, a.right - a.left, a.bottom - a.top);
      ctx.beginPath();
      scales.y.ticks.forEach(t => {
        const y = scales.y.getPixelForValue(t.value);
        if (y <= a.top + 2 || y >= a.bottom - 2) return;
        ctx.moveTo(a.left, y); ctx.lineTo(a.left + 14, y);
        ctx.moveTo(a.right, y); ctx.lineTo(a.right - 14, y);
      });
      if (withXTicks) {
        scales.x.ticks.forEach(t => {
          const x = scales.x.getPixelForValue(t.value);
          if (x <= a.left + 2 || x >= a.right - 2) return;
          ctx.moveTo(x, a.bottom); ctx.lineTo(x, a.bottom - 14);
          ctx.moveTo(x, a.top); ctx.lineTo(x, a.top + 14);
        });
      }
      ctx.stroke();
      ctx.restore();
      drawTexts(chart);
    }
  };
}

function options(yMax, showX, padding) {
  return {
    responsive: false,
    animation: false,
    devicePixelRatio: 1,
    layout: { padding },
    plugins: { legend: { display: false }, tooltip: { enabled: false } },
    scales: {
      x: {
        type: 'linear', min: 0, max: X_MAX, display: showX,
        afterBuildTicks: s => { s.ticks = xTicks.map(v => ({ value: v })); },
        afterFit: s => { if (showX) s.height = 141; },
        grid: { display: false, drawTicks: false },
        border: { display: false },
        ticks: { font, color: '#000', padding: 22, labelOffset: 7, maxRotation: 0, autoSkip: false,
                 callback: v => String(v) },
        title: { display: true, text: 'Longitudinal location [m]', font, color: '#000',
                 padding: { top: 0, bottom: 1 } }
      },
      y: {
        type: 'linear', min: -0.3, max: yMax,
        afterBuildTicks: s => { s.ticks = yTicks.filter(v => v <= yMax + 1e-9).map(v => ({ value: v })); },
        afterFit: s => { s.width = 206; },
        grid: { display: false, drawTicks: false },
        border: { display: false },
        ticks: { font, color: '#000', padding: 28, autoSkip: false,
                 callback: v => String(Math.round(v * 10) / 10) }
      }
    }
  };
}

// top panel: horizontal beta-beating (canvas shifted up by 20px)
new Chart(document.getElementById('topChart'), {
  type: 'scatter',
  data: {
    datasets: [
      dataset(seriesNames[0], points(bpmS, oldBx, oldBxErr).concat(points(bpmS2, oldBx2, oldBx2Err)), RED_PT, RED_BAR, 2),
      dataset(seriesNames[1], points(bpmS, newBx, newBxErr).concat(points(bpmS2, newBx2, newBx2Err)), BLUE_PT, BLUE_BAR, 1)
    ]
  },
  options: options(0.3, false, { left: 0, top: 59, right: 47, bottom: 565 }),
  plugins: [errorBars, framePlugin(false, chart => {
    const { ctx, chartArea: a, scales } = chart;
    ctx.save();
    ctx.fillStyle = '#000';
    ctx.font = `39px "${FONT}"`;
    ctx.textBaseline = 'alphabetic';
    ctx.textAlign = 'left';
    irNames.forEach((n, i) => ctx.fillText(n, scales.x.getPixelForValue(irS[i]), a.bottom - 7));
    ctx.textAlign = 'right';
    ctx.font = `40px "${FONT}"`;
    ctx.fillText('LHCB2 \u03b2*=0.6m, 4 TeV', a.right - 2, a.top + 38);
    ctx.restore();
    drawYTitle(ctx, 77, (a.top + a.bottom) / 2 + 1.5, '\u0394\u03b2/\u03b2', 'x');
  })]
});

// bottom panel: vertical beta-beating
new Chart(document.getElementById('botChart'), {
  type: 'scatter',
  data: {
    datasets: [
      dataset(seriesNames[0], points(bpmS, oldBy, oldByErr).concat(points(bpmS2, oldBy2, oldBy2Err)), RED_PT, RED_BAR, 2),
      dataset(seriesNames[1], points(bpmS, newBy, newByErr).concat(points(bpmS2, newBy2, newBy2Err)), BLUE_PT, BLUE_BAR, 1)
    ]
  },
  options: options(0.29, true, { left: 0, top: 517, right: 47, bottom: 0 }),
  plugins: [errorBars, framePlugin(true, chart => {
    const { ctx, chartArea: a } = chart;
    drawYTitle(ctx, 77, (a.top + a.bottom) / 2 - 1.5, '\u0394\u03b2/\u03b2', 'y');
    // key
    const rows = [[seriesNames[0], RED_BAR, RED_PT, 851], [seriesNames[1], BLUE_BAR, BLUE_PT, 897]];
    ctx.save();
    rows.forEach(([name, bar, pt, y]) => {
      ctx.fillStyle = '#000';
      ctx.font = `39px "${FONT}"`;
      ctx.textAlign = 'right';
      ctx.textBaseline = 'middle';
      ctx.fillText(name, 1240, y + 3);
      ctx.strokeStyle = bar;
      ctx.lineWidth = 2;
      ctx.beginPath();
      ctx.moveTo(1268, y); ctx.lineTo(1391, y);
      ctx.moveTo(1268, y - 7); ctx.lineTo(1268, y + 7);
      ctx.moveTo(1391, y - 7); ctx.lineTo(1391, y + 7);
      ctx.stroke();
      ctx.fillStyle = pt;
      ctx.beginPath();
      ctx.arc(1329, y, 6, 0, Math.PI * 2);
      ctx.fill();
    });
    ctx.restore();
  })]
});
</script>
</body>
</html>
